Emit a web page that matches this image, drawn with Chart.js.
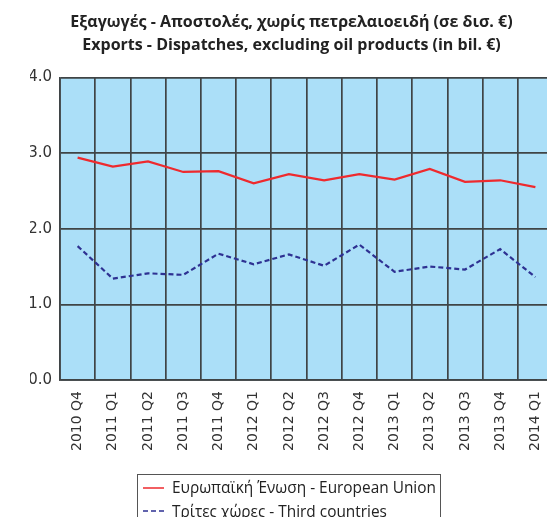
<!DOCTYPE html>
<html>
<head>
<meta charset="utf-8">
<script src="https://cdn.jsdelivr.net/npm/chart.js@4/dist/chart.umd.min.js"></script>
<style>
    body { margin: 0; width: 547px; height: 517px; overflow: hidden; background: #fff; position: relative; }
    #wrap { position: absolute; left: 0; top: 0; }
    #legend {
        position: absolute; left: 137px; top: 474px; width: 302px;
        border: 1px solid #555; background: #fff; padding: 1px 0 10px 0;
        font-family: 'Open Sans', sans-serif; font-size: 15.4px; color: #222;
    }
    .item { height: 23.5px; display: flex; align-items: center; }
    .item canvas { margin: 0 8px 0 5px; }
</style>
</head>
<body>
<div id="wrap"><canvas id="exports" width="574" height="465"></canvas></div>
<div id="legend"></div>
<script>
// Quarterly exports / dispatches excluding oil products, bil. euro
const categories = ['2010 Q4', '2011 Q1', '2011 Q2', '2011 Q3', '2011 Q4', '2012 Q1', '2012 Q2',
    '2012 Q3', '2012 Q4', '2013 Q1', '2013 Q2', '2013 Q3', '2013 Q4', '2014 Q1'];
const euValues = [2.94, 2.82, 2.89, 2.75, 2.76, 2.60, 2.72, 2.64, 2.72, 2.65, 2.79, 2.62, 2.64, 2.55];
const thirdValues = [1.77, 1.34, 1.41, 1.39, 1.67, 1.53, 1.66, 1.51, 1.79, 1.43, 1.50, 1.46, 1.73, 1.36];
const yTicks = [0, 1, 2, 3, 4];
const seriesNames = ['Ευρωπαϊκή Ένωση - European Union', 'Τρίτες χώρες - Third countries'];
const titleLines = ['Εξαγωγές - Αποστολές, χωρίς πετρελαιοειδή (σε δισ. €)',
    'Exports - Dispatches, excluding oil products (in bil. €)'];

const gridColor = '#3f4446';

// light blue fill behind the plot area
const plotBackground = {
    id: 'plotBackground',
    beforeDraw(chart) {
        const { ctx, chartArea: a } = chart;
        ctx.save();
        ctx.fillStyle = '#abdff8';
        ctx.fillRect(a.left, a.top, a.right - a.left, a.bottom - a.top);
        ctx.restore();
    }
};

const chart = new Chart(document.getElementById('exports'), {
    type: 'line',
    data: {
        labels: categories,
        datasets: [
            {
                label: seriesNames[0],
                data: euValues,
                borderColor: '#ee2a2e',
                borderWidth: 2.2,
                pointRadius: 0,
                tension: 0
            },
            {
                label: seriesNames[1],
                data: thirdValues,
                borderColor: '#2e3192',
                borderWidth: 2.2,
                borderDash: [5, 3],
                pointRadius: 0,
                tension: 0
            }
        ]
    },
    options: {
        responsive: false,
        animation: false,
        // left padding keeps the title centred; y labels spill into it
        layout: { padding: { left: 30, right: 21, top: 0, bottom: 0 } },
        plugins: {
            legend: { display: false },
            tooltip: { enabled: false },
            title: {
                display: true,
                text: titleLines,
                color: '#222',
                font: { family: 'Open Sans', size: 16, weight: 'bold', lineHeight: 1.45 },
                padding: { top: 11, bottom: 20 }
            }
        },
        scales: {
            x: {
                offset: true,
                grid: { offset: true, color: gridColor, lineWidth: 1.7, drawTicks: false },
                border: { color: gridColor, width: 1.7 },
                ticks: {
                    autoSkip: false,
                    minRotation: 90,
                    maxRotation: 90,
                    padding: 11,
                    color: '#333',
                    font: { family: 'DejaVu Sans', size: 14 }
                },
                afterFit(scale) { scale.height = 85; }
            },
            y: {
                min: 0,
                max: 4,
                afterBuildTicks(scale) { scale.ticks = yTicks.map(v => ({ value: v })); },
                grid: { color: gridColor, lineWidth: 1.7, drawTicks: false },
                border: { color: gridColor, width: 1.7 },
                ticks: {
                    padding: 8,
                    color: '#333',
                    font: { family: 'DejaVu Sans', size: 15 },
                    callback: v => v.toFixed(1)
                },
                afterFit(scale) { scale.width = 30; }
            }
        }
    },
    plugins: [plotBackground]
});

// legend box with line samples taken from the datasets
const legend = document.getElementById('legend');
chart.data.datasets.forEach(ds => {
    const row = document.createElement('div');
    row.className = 'item';
    const sample = document.createElement('canvas');
    sample.width = 21;
    sample.height = 4;
    const c = sample.getContext('2d');
    c.strokeStyle = ds.borderColor;
    c.lineWidth = 1.5;
    c.setLineDash(ds.borderDash ? [5, 3] : []);
    c.beginPath();
    c.moveTo(0, 2);
    c.lineTo(21, 2);
    c.stroke();
    row.appendChild(sample);
    row.appendChild(document.createTextNode(ds.label));
    legend.appendChild(row);
});
</script>
</body>
</html>
